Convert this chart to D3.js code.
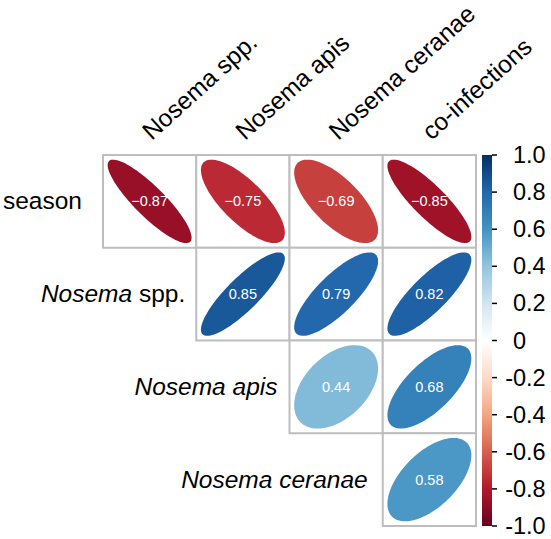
<!DOCTYPE html>
<html>
<head>
<meta charset="utf-8">
<script src="https://cdn.jsdelivr.net/npm/d3@7"></script>
<style>
  html, body { margin: 0; padding: 0; background: #fff; }
  svg { display: block; font-family: "Liberation Sans", Arial, sans-serif; }
</style>
</head>
<body>
<svg id="chart" width="551" height="539"></svg>
<script>
// ---- data ----
const rowLabels = ["season", "Nosema spp.", "Nosema apis", "Nosema ceranae"];
const colLabels = ["Nosema spp.", "Nosema apis", "Nosema ceranae", "co-infections"];
const seasonVals   = [-0.87, -0.75, -0.69, -0.85];
const nosemaSppVals = [null, 0.85, 0.79, 0.82];
const nosemaApisVals = [null, null, 0.44, 0.68];
const nosemaCeranaeVals = [null, null, null, 0.58];
const colorbarTicks = [1.0, 0.8, 0.6, 0.4, 0.2, 0, -0.2, -0.4, -0.6, -0.8, -1.0];
const colorbarTickLabels = ["1.0", "0.8", "0.6", "0.4", "0.2", "0", "-0.2", "-0.4", "-0.6", "-0.8", "-1.0"];
const palette = ["#67001F", "#B2182B", "#D6604D", "#F4A582", "#FDDBC7", "#FFFFFF",
                 "#D1E5F0", "#92C5DE", "#4393C3", "#2166AC", "#053061"];

const valueRows = [seasonVals, nosemaSppVals, nosemaApisVals, nosemaCeranaeVals];

// ---- layout ----
const svg = d3.select("#chart");
const x = d3.scaleBand().domain(colLabels).range([103, 476]);
const y = d3.scaleBand().domain(rowLabels).range([155, 526]);
const color = d3.scaleLinear()
  .domain(d3.range(palette.length).map(i => -1 + 2 * i / (palette.length - 1)))
  .range(palette)
  .interpolate(d3.interpolateRgb);

const cells = [];
rowLabels.forEach((r, i) => {
  valueRows[i].forEach((v, j) => {
    if (v !== null) cells.push({ row: r, col: colLabels[j], v });
  });
});

// ellipse path (corrplot style)
function ellipsePath(rho, cx, cy, w, h) {
  const d = Math.acos(rho);
  const pts = d3.range(0, 100).map(i => {
    const k = 2 * Math.PI * i / 99;
    return [cx + w * Math.cos(k + d / 2) / 2, cy - h * Math.cos(k - d / 2) / 2];
  });
  return d3.line()(pts) + "Z";
}

const bw = x.bandwidth(), bh = y.bandwidth();
const ellScale = 0.9;

const g = svg.append("g");
g.selectAll("rect.cell").data(cells).enter().append("rect")
  .attr("x", d => x(d.col)).attr("y", d => y(d.row))
  .attr("width", bw).attr("height", bh)
  .attr("fill", "#fff").attr("stroke", "#bebebe").attr("stroke-width", 2);

g.selectAll("path.ell").data(cells).enter().append("path")
  .attr("d", d => ellipsePath(d.v, x(d.col) + bw / 2, y(d.row) + bh / 2, bw * ellScale, bh * ellScale))
  .attr("fill", d => color(d.v));

g.selectAll("text.val").data(cells).enter().append("text")
  .attr("x", d => x(d.col) + bw / 2)
  .attr("y", d => y(d.row) + bh / 2)
  .attr("text-anchor", "middle")
  .attr("dominant-baseline", "central")
  .attr("fill", "#fff")
  .attr("font-size", 14.5)
  .text(d => d3.format(".2f")(d.v).replace("-", "\u2212"));

// row labels (italic styling as in reference)
const rowItalic = [[false, false], [true, false], [true, true], [true, true]];
const rowGap = [21, 11, 12, 15];
rowLabels.forEach((r, i) => {
  const firstCol = colLabels[i];
  const t = svg.append("text")
    .attr("x", x(firstCol) - rowGap[i])
    .attr("y", y(r) + bh / 2 + 8)
    .attr("text-anchor", "end")
    .attr("font-size", 24.5)
    .attr("fill", "#000");
  if (r.startsWith("Nosema")) {
    t.append("tspan").attr("font-style", rowItalic[i][0] ? "italic" : "normal").text("Nosema");
    t.append("tspan").attr("font-style", rowItalic[i][1] ? "italic" : "normal").text(r.slice(6));
  } else {
    t.text(r);
  }
});

// column labels (upright)
colLabels.forEach(c => {
  const px = x(c) + bw / 2 + 2, py = 141;
  svg.append("text")
    .attr("transform", `translate(${px},${py}) rotate(-42)`)
    .attr("text-anchor", "start")
    .attr("font-size", 24.5)
    .attr("fill", "#000")
    .text(c);
});

// colorbar
const cbY = d3.scaleLinear().domain([-1, 1]).range([526, 155]);
const defs = svg.append("defs");
const grad = defs.append("linearGradient").attr("id", "cbgrad")
  .attr("x1", 0).attr("y1", 1).attr("x2", 0).attr("y2", 0);
d3.range(0, 101).forEach(i => {
  const v = -1 + 2 * i / 100;
  grad.append("stop").attr("offset", (i / 100)).attr("stop-color", color(v));
});
svg.append("rect")
  .attr("x", 482).attr("y", cbY(1)).attr("width", 10).attr("height", cbY(-1) - cbY(1))
  .attr("fill", "url(#cbgrad)");

const cbAxis = svg.append("g");
colorbarTicks.forEach((v, i) => {
  cbAxis.append("line")
    .attr("x1", 492).attr("x2", 497)
    .attr("y1", cbY(v)).attr("y2", cbY(v))
    .attr("stroke", "#000").attr("stroke-width", 1.5);
  const lab = colorbarTickLabels[i];
  const neg = lab.startsWith("-");
  cbAxis.append("text")
    .attr("x", 513).attr("y", cbY(v))
    .attr("dominant-baseline", "central")
    .attr("font-size", 23.5)
    .attr("fill", "#000")
    .text(neg ? lab.slice(1) : lab);
  if (neg) {
    cbAxis.append("text")
      .attr("x", 513).attr("y", cbY(v))
      .attr("text-anchor", "end")
      .attr("dominant-baseline", "central")
      .attr("font-size", 23.5)
      .attr("fill", "#000")
      .text("-");
  }
});
</script>
</body>
</html>
